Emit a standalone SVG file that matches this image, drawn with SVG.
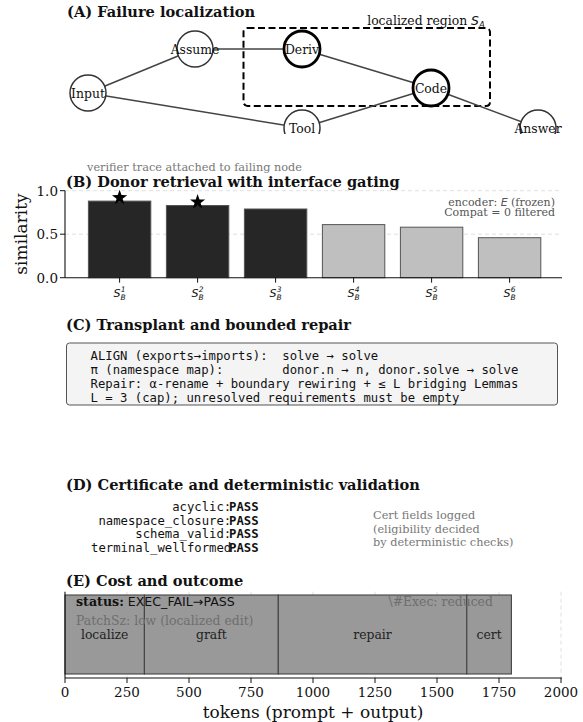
<svg xmlns="http://www.w3.org/2000/svg" width="583" height="722" viewBox="0 0 583 722">
  <style>
    .title { font-family: "DejaVu Serif", serif; font-weight: bold; font-size: 14.6px; fill: #111; }
    .serif { font-family: "DejaVu Serif", serif; }
    .mono { font-family: "DejaVu Sans Mono", monospace; font-size: 12.25px; fill: #111; }
    .monob { font-family: "DejaVu Sans Mono", monospace; font-size: 12.25px; font-weight: bold; fill: #111; }
    .math { font-family: "DejaVu Sans", sans-serif; font-style: italic; }
    .note { font-family: "DejaVu Serif", serif; font-size: 11.3px; fill: #777; }
    .nodelabel { font-family: "DejaVu Serif", serif; font-size: 12.4px; fill: #111; text-anchor: middle; dominant-baseline: central; }
    .node { fill: #fff; stroke: #333; stroke-width: 1.5; }
    .node.hot { stroke: #000; stroke-width: 2.8; }
    .edge { stroke: #444; stroke-width: 1.5; fill: none; }
    .grid { stroke: #d8d8d8; stroke-width: 0.8; stroke-dasharray: 4 3; fill: none; }
    .spine { stroke: #111; stroke-width: 1.1; fill: none; }
    .tick { stroke: #111; stroke-width: 1; }
    .ticklabel { font-family: "DejaVu Serif", serif; font-size: 13.5px; fill: #111; }
    .bar-dark { fill: #262626; stroke: #555; stroke-width: 1; }
    .bar-light { fill: #bfbfbf; stroke: #555; stroke-width: 1; }
    .seg { fill: #999; stroke: #444; stroke-width: 1.1; }
    .seglabel { font-family: "DejaVu Serif", serif; font-size: 12.4px; fill: #222; text-anchor: middle; }
  </style>
  <defs>
    <clipPath id="clipA">
      <rect x="0" y="0" width="583" height="134"/>
    </clipPath>
    <polygon id="star" points="0,-8 1.9,-2.6 7.6,-2.5 3,1 4.7,6.5 0,3.2 -4.7,6.5 -3,1 -7.6,-2.5 -1.9,-2.6" fill="#000"/>
  </defs>

  <rect width="583" height="722" fill="#fff"/>

  <!-- (A) Failure localization -->
  <text class="title" x="67" y="17">(A) Failure localization</text>
  <g id="localized-region">
    <rect x="243.5" y="28" width="246.5" height="78" rx="4" fill="none" stroke="#000" stroke-width="2" stroke-dasharray="7 3.5"/>
    <text class="serif" x="426" y="25" font-size="12.4" fill="#111" text-anchor="middle">localized region <tspan class="math">S</tspan><tspan class="math" font-size="8.5" dy="2.5">A</tspan></text>
  </g>
  <g clip-path="url(#clipA)">
    <g id="connectors">
      <line class="edge" x1="88" y1="93" x2="195" y2="49"/>
      <line class="edge" x1="88" y1="93" x2="302" y2="128"/>
      <line class="edge" x1="195" y1="49" x2="302" y2="49"/>
      <line class="edge" x1="302" y1="49" x2="431" y2="88"/>
      <line class="edge" x1="302" y1="128" x2="431" y2="88"/>
      <line class="edge" x1="431" y1="88" x2="538" y2="128"/>
    </g>
    <g id="node-input"><circle class="node" cx="88" cy="93" r="18"/><text class="nodelabel" x="88" y="93">Input</text></g>
    <g id="node-assume"><circle class="node" cx="195" cy="49" r="18"/><text class="nodelabel" x="195" y="49">Assume</text></g>
    <g id="node-deriv"><circle class="node hot" cx="302" cy="49" r="18"/><text class="nodelabel" x="302" y="49">Deriv</text></g>
    <g id="node-code"><circle class="node hot" cx="431" cy="88" r="18"/><text class="nodelabel" x="431" y="88">Code</text></g>
    <g id="node-tool"><circle class="node" cx="302" cy="128" r="18"/><text class="nodelabel" x="302" y="128">Tool</text></g>
    <g id="node-answer"><circle class="node" cx="538" cy="128" r="18"/><text class="nodelabel" x="538" y="128">Answer</text></g>
  </g>
  <text class="note" x="87" y="171">verifier trace attached to failing node</text>

  <!-- (B) Donor retrieval -->
  <text class="title" x="66" y="187">(B) Donor retrieval with interface gating</text>
  <g id="panel-b">
    <line class="grid" x1="65" y1="190.7" x2="562" y2="190.7"/>
    <line class="grid" x1="65" y1="234.2" x2="562" y2="234.2"/>
    <rect class="bar-dark" x="88.4" y="201.1" width="62.4" height="76.6"/>
    <rect class="bar-dark" x="166.4" y="205.5" width="62.4" height="72.2"/>
    <rect class="bar-dark" x="244.4" y="209" width="62.4" height="68.7"/>
    <rect class="bar-light" x="322.4" y="224.6" width="62.4" height="53.1"/>
    <rect class="bar-light" x="400.4" y="227.2" width="62.4" height="50.5"/>
    <rect class="bar-light" x="478.4" y="237.7" width="62.4" height="40"/>
    <use href="#star" x="119.6" y="197.7"/>
    <use href="#star" x="197.6" y="202"/>
    <line class="spine" x1="65" y1="190.7" x2="65" y2="277.7"/>
    <line class="spine" x1="65" y1="277.7" x2="562" y2="277.7"/>
    <g class="tick">
      <line x1="60" y1="190.7" x2="65" y2="190.7"/>
      <line x1="60" y1="234.2" x2="65" y2="234.2"/>
      <line x1="60" y1="277.7" x2="65" y2="277.7"/>
      <line x1="119.6" y1="277.7" x2="119.6" y2="282.7"/>
      <line x1="197.6" y1="277.7" x2="197.6" y2="282.7"/>
      <line x1="275.6" y1="277.7" x2="275.6" y2="282.7"/>
      <line x1="353.6" y1="277.7" x2="353.6" y2="282.7"/>
      <line x1="431.6" y1="277.7" x2="431.6" y2="282.7"/>
      <line x1="509.6" y1="277.7" x2="509.6" y2="282.7"/>
    </g>
    <g class="ticklabel" text-anchor="end">
      <text x="58" y="195.5">1.0</text>
      <text x="58" y="239">0.5</text>
      <text x="58" y="282.5">0.0</text>
    </g>
    <g class="math" font-size="11" fill="#111" text-anchor="middle">
      <text x="119.6" y="297">S<tspan font-size="7.5" dy="3">B</tspan><tspan font-size="7.5" dx="-5" dy="-8">1</tspan></text>
      <text x="197.6" y="297">S<tspan font-size="7.5" dy="3">B</tspan><tspan font-size="7.5" dx="-5" dy="-8">2</tspan></text>
      <text x="275.6" y="297">S<tspan font-size="7.5" dy="3">B</tspan><tspan font-size="7.5" dx="-5" dy="-8">3</tspan></text>
      <text x="353.6" y="297">S<tspan font-size="7.5" dy="3">B</tspan><tspan font-size="7.5" dx="-5" dy="-8">4</tspan></text>
      <text x="431.6" y="297">S<tspan font-size="7.5" dy="3">B</tspan><tspan font-size="7.5" dx="-5" dy="-8">5</tspan></text>
      <text x="509.6" y="297">S<tspan font-size="7.5" dy="3">B</tspan><tspan font-size="7.5" dx="-5" dy="-8">6</tspan></text>
    </g>
    <text class="serif" font-size="17" fill="#111" text-anchor="middle" transform="translate(27 234) rotate(-90)">similarity</text>
    <text class="serif" font-size="11" fill="#555" text-anchor="end" x="555" y="205.5">encoder: <tspan class="math">E</tspan> (frozen)</text>
    <text class="serif" font-size="11" fill="#555" text-anchor="end" x="555" y="215.5">Compat = 0 filtered</text>
  </g>

  <!-- (C) Transplant and bounded repair -->
  <text class="title" x="66" y="330">(C) Transplant and bounded repair</text>
  <g id="panel-c">
    <rect x="66.5" y="343" width="491" height="62" rx="3" fill="#f4f4f4" stroke="#555" stroke-width="1"/>
    <text class="mono" x="90.5" y="359.5" xml:space="preserve">ALIGN (exports→imports):  solve → solve</text>
    <text class="mono" x="90.5" y="373.5" xml:space="preserve">π (namespace map):        donor.n → n, donor.solve → solve</text>
    <text class="mono" x="90.5" y="387.5" xml:space="preserve">Repair: α-rename + boundary rewiring + ≤ L bridging Lemmas</text>
    <text class="mono" x="90.5" y="401.5" xml:space="preserve">L = 3 (cap); unresolved requirements must be empty</text>
  </g>

  <!-- (D) Certificate and deterministic validation -->
  <text class="title" x="66" y="490">(D) Certificate and deterministic validation</text>
  <g id="panel-d">
    <text class="mono" x="91" y="511" xml:space="preserve">           acyclic:</text>
    <text class="mono" x="91" y="524.5" xml:space="preserve"> namespace_closure:</text>
    <text class="mono" x="91" y="538" xml:space="preserve">      schema_valid:</text>
    <text class="mono" x="91" y="551.5" xml:space="preserve">terminal_wellformed:</text>
    <text class="monob" x="229" y="511">PASS</text>
    <text class="monob" x="229" y="524.5">PASS</text>
    <text class="monob" x="229" y="538">PASS</text>
    <text class="monob" x="229" y="551.5">PASS</text>
    <text class="note" x="373" y="519">Cert fields logged</text>
    <text class="note" x="373" y="532.5">(eligibility decided</text>
    <text class="note" x="373" y="546">by deterministic checks)</text>
  </g>

  <!-- (E) Cost and outcome -->
  <text class="title" x="66" y="586">(E) Cost and outcome</text>
  <g id="panel-e">
    <g class="grid">
      <line x1="127" y1="591.7" x2="127" y2="678"/>
      <line x1="189" y1="591.7" x2="189" y2="678"/>
      <line x1="251" y1="591.7" x2="251" y2="678"/>
      <line x1="313" y1="591.7" x2="313" y2="678"/>
      <line x1="375" y1="591.7" x2="375" y2="678"/>
      <line x1="437" y1="591.7" x2="437" y2="678"/>
      <line x1="499" y1="591.7" x2="499" y2="678"/>
      <line x1="561" y1="591.7" x2="561" y2="678"/>
    </g>
    <rect class="seg" x="65" y="595" width="79.4" height="79"/>
    <rect class="seg" x="144.4" y="595" width="133.9" height="79"/>
    <rect class="seg" x="278.3" y="595" width="188.5" height="79"/>
    <rect class="seg" x="466.8" y="595" width="44.6" height="79"/>
    <text class="seglabel" x="104.7" y="638.5">localize</text>
    <text class="seglabel" x="211.4" y="638.5">graft</text>
    <text class="seglabel" x="372.5" y="638.5">repair</text>
    <text class="seglabel" x="489.1" y="638.5">cert</text>
    <text x="76" y="606" font-size="12.6" fill="#111"><tspan class="serif" font-weight="bold">status:</tspan><tspan font-family="DejaVu Sans, sans-serif"> EXEC_FAIL→PASS</tspan></text>
    <text class="serif" x="76" y="624.5" font-size="12.4" fill="#6e6e6e">PatchSz: low (localized edit)</text>
    <text class="serif" x="388.5" y="606" font-size="12.4" fill="#6e6e6e">\#Exec: reduced</text>
    <line class="spine" x1="65" y1="591.7" x2="65" y2="678"/>
    <line class="spine" x1="65" y1="678" x2="562" y2="678"/>
    <g class="tick">
      <line x1="65" y1="678" x2="65" y2="683"/>
      <line x1="127" y1="678" x2="127" y2="683"/>
      <line x1="189" y1="678" x2="189" y2="683"/>
      <line x1="251" y1="678" x2="251" y2="683"/>
      <line x1="313" y1="678" x2="313" y2="683"/>
      <line x1="375" y1="678" x2="375" y2="683"/>
      <line x1="437" y1="678" x2="437" y2="683"/>
      <line x1="499" y1="678" x2="499" y2="683"/>
      <line x1="561" y1="678" x2="561" y2="683"/>
    </g>
    <g class="ticklabel" font-size="13" text-anchor="middle">
      <text x="65" y="697">0</text>
      <text x="127" y="697">250</text>
      <text x="189" y="697">500</text>
      <text x="251" y="697">750</text>
      <text x="313" y="697">1000</text>
      <text x="375" y="697">1250</text>
      <text x="437" y="697">1500</text>
      <text x="499" y="697">1750</text>
      <text x="561" y="697">2000</text>
    </g>
    <text class="serif" x="313" y="718" font-size="17" fill="#111" text-anchor="middle">tokens (prompt + output)</text>
  </g>
</svg>
